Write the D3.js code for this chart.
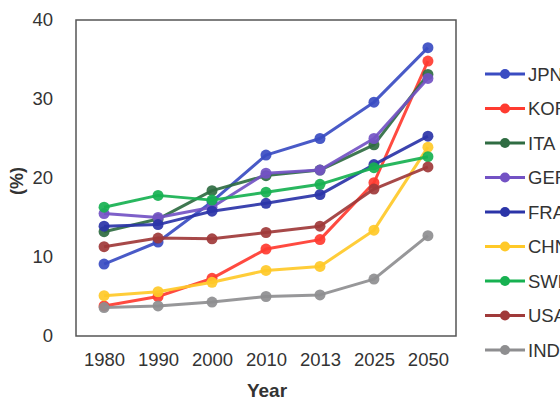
<!DOCTYPE html>
<html><head><meta charset="utf-8">
<script src="https://cdn.jsdelivr.net/npm/d3@7"></script>
<style>html,body{margin:0;padding:0;background:#fff;overflow:hidden}</style>
</head><body>
<svg id="chart" width="560" height="410"></svg>
<script>
const years = ["1980","1990","2000","2010","2013","2025","2050"];
const countries = ["JPN","KOR","ITA","GER","FRA","CHN","SWE","USA","IND"];
const colors = ["#3a4cc2","#ff3b30","#2f6c42","#7352c4","#2b34a8","#ffc928","#17b151","#a03a3a","#8e8e90"];
const JPN = [9.1, 11.9, 17.0, 22.9, 25.0, 29.6, 36.5];
const KOR = [3.8, 5.0, 7.3, 11.0, 12.2, 19.4, 34.8];
const ITA = [13.2, 14.8, 18.4, 20.3, 21.0, 24.2, 33.1];
const GER = [15.5, 15.0, 16.3, 20.6, 21.0, 25.0, 32.6];
const FRA = [13.9, 14.1, 15.8, 16.8, 17.9, 21.7, 25.3];
const CHN = [5.1, 5.6, 6.8, 8.3, 8.8, 13.4, 23.9];
const SWE = [16.3, 17.8, 17.2, 18.2, 19.2, 21.3, 22.7];
const USA = [11.3, 12.4, 12.3, 13.1, 13.9, 18.6, 21.4];
const IND = [3.6, 3.8, 4.3, 5.0, 5.2, 7.2, 12.7];
const yTicks = [0, 10, 20, 30, 40];
const seriesValues = [JPN, KOR, ITA, GER, FRA, CHN, SWE, USA, IND];

const svg = d3.select("#chart");
const L = 76, R = 456, T = 20, B = 336;
const font = "Liberation Sans, Arial, sans-serif";

const x = d3.scalePoint().domain(years).range([L, R]).padding(0.52);
const y = d3.scaleLinear().domain([0, 40]).range([B, T]);

// frame
svg.append("rect").attr("x", L).attr("y", T).attr("width", R - L).attr("height", B - T)
  .attr("fill", "none").attr("stroke", "#555").attr("stroke-width", 1.5);

// y axis
const yAxis = svg.append("g").attr("transform", `translate(${L},0)`)
  .call(d3.axisLeft(y).tickValues(yTicks).tickSize(0).tickPadding(23));
yAxis.select(".domain").remove();
yAxis.selectAll("text").attr("font-family", font).attr("font-size", 18.5).attr("fill", "#333");

// x axis
const xAxis = svg.append("g").attr("transform", `translate(0,${B})`)
  .call(d3.axisBottom(x).tickSize(0).tickPadding(17));
xAxis.select(".domain").remove();
xAxis.selectAll("text").attr("font-family", font).attr("font-size", 18.5).attr("fill", "#333");

svg.append("text").attr("x", (L + R) / 2 + 1).attr("y", 397).attr("text-anchor", "middle")
  .attr("font-family", font).attr("font-size", 19).attr("font-weight", "bold").attr("fill", "#333")
  .text("Year");

// y label (first line lies beyond the left edge, as in the reference)
const yl = svg.append("text").attr("transform", "translate(23,181) rotate(-90)")
  .attr("text-anchor", "middle").attr("font-family", font).attr("font-size", 18)
  .attr("font-weight", "bold").attr("fill", "#333");
yl.append("tspan").attr("x", 0).attr("dy", "-1.5em").text("Aged population ratio");
yl.append("tspan").attr("x", 0).attr("dy", "1.5em").text("(%)");

const line = d3.line().x((d, i) => x(years[i])).y(d => y(d));

countries.forEach((c, k) => {
  const g = svg.append("g");
  g.append("path").datum(seriesValues[k]).attr("d", line)
    .attr("fill", "none").attr("stroke", colors[k]).attr("stroke-width", 3)
    .attr("stroke-linejoin", "round").attr("opacity", 0.92);
  g.selectAll("circle").data(seriesValues[k]).join("circle")
    .attr("cx", (d, i) => x(years[i])).attr("cy", d => y(d)).attr("r", 5.5)
    .attr("fill", colors[k]).attr("opacity", 0.92);
});

// legend
const legendY = d3.scalePoint().domain(countries).range([74, 350]);
const lg = svg.append("g");
countries.forEach((c, k) => {
  const yy = legendY(c);
  lg.append("line").attr("x1", 485).attr("x2", 525).attr("y1", yy).attr("y2", yy)
    .attr("stroke", colors[k]).attr("stroke-width", 3);
  lg.append("circle").attr("cx", 505).attr("cy", yy).attr("r", 5).attr("fill", colors[k]);
  lg.append("text").attr("x", 528).attr("y", yy).attr("dy", "0.36em")
    .attr("font-family", font).attr("font-size", 18.5).attr("fill", "#333").text(c);
});
</script>
</body></html>
